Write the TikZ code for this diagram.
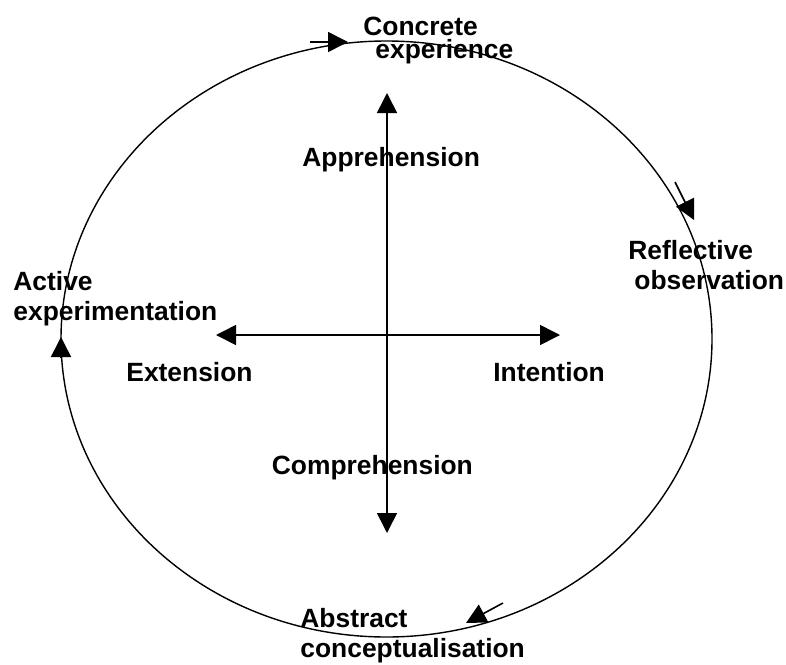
\documentclass[tikz,border=0pt]{standalone}
\usepackage{fontspec}
\setmainfont{Liberation Sans}
\usetikzlibrary{arrows.meta}
\begin{document}
\begin{tikzpicture}[x=0.5pt, y=-0.5pt,
    lbl/.style={anchor=base west, inner sep=0pt, align=left, font=\fontsize{13.2}{14.7}\selectfont\bfseries},
    head/.style={-{Triangle[length=10pt, width=10pt]}, line width=0.8pt},
    heads/.style={{Triangle[length=10pt, width=10pt]}-{Triangle[length=10pt, width=10pt]}, line width=0.8pt}]
    % Learning cycle round the two axes
    \useasboundingbox (0,0) rectangle (786,664);
    \draw[line width=0.7pt] (386.5,339) ellipse [x radius=325.5, y radius=298];
    \coordinate (ap) at (387,93);
    \coordinate (co) at (387,533);
    \coordinate (ex) at (216,335);
    \coordinate (in) at (560,335);
    \draw[heads] (ap)--(co);
    \draw[heads] (ex)--(in);
    \coordinate (t1) at (310,42);   \coordinate (h1) at (348,42);
    \coordinate (t2) at (675,182);  \coordinate (h2) at (694,220);
    \coordinate (t3) at (503,603);  \coordinate (h3) at (466,623);
    \coordinate (t4) at (61,357);   \coordinate (h4) at (61,337);
    \draw[head] (t1)--(h1);
    \draw[head] (t2)--(h2);
    \draw[head] (t3)--(h3);
    \draw[head] (t4)--(h4);
    % multi-line labels sit on the baseline of their last line
    \node[lbl] (ce) at (363,58) {Concrete\\[-3.2pt]\hspace*{6pt}experience};
    \node[lbl] (ro) at (628,289) {Reflective\\\hspace*{3pt}observation};
    \node[lbl] (ac) at (300,657) {Abstract\\conceptualisation};
    \node[lbl] (ae) at (13,320) {Active\\experimentation};
    \node[lbl] (appr) at (302,166) {Apprehension};
    \node[lbl] (comp) at (271.5,474) {Comprehension};
    \node[lbl] (exte) at (126,381) {Extension};
    \node[lbl] (inte) at (493,381) {Intention};
\end{tikzpicture}
\end{document}
